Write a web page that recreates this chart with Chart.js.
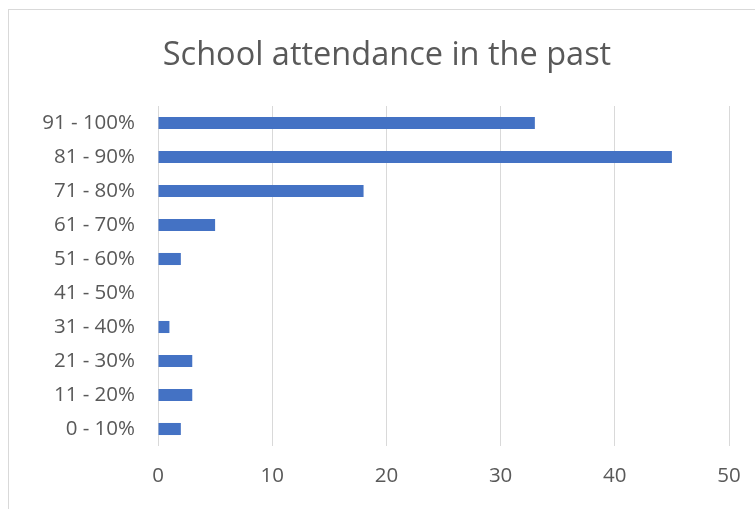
<!DOCTYPE html>
<html>
<head>
<meta charset="utf-8">
<script src="https://cdn.jsdelivr.net/npm/chart.js@4.4.1/dist/chart.umd.min.js"></script>
<style>
  html, body { margin: 0; padding: 0; background: #fff; overflow: hidden; }
  #frame {
    position: absolute; left: 8px; top: 9px;
    width: 760px; height: 510px;
    border: 1px solid #d9d9d9; background: #fff;
  }
  #wrap { position: absolute; left: 0; top: 0; width: 756px; height: 500px; }
</style>
</head>
<body>
<div id="frame">
  <div id="wrap"><canvas id="chart"></canvas></div>
</div>
<script>
  // categories listed top to bottom, as shown in the chart
  var categories = ["91 - 100%", "81 - 90%", "71 - 80%", "61 - 70%", "51 - 60%",
                    "41 - 50%", "31 - 40%", "21 - 30%", "11 - 20%", "0 - 10%"];
  var counts = [33, 45, 18, 5, 2, 0, 1, 3, 3, 2];
  var xTicks = [0, 10, 20, 30, 40, 50];

  var textColor = "#595959";
  var gridColor = "#d9d9d9";
  var fontFamily = "'Open Sans', sans-serif";

  Chart.defaults.font.family = fontFamily;
  Chart.defaults.color = textColor;

  new Chart(document.getElementById("chart"), {
    type: "bar",
    data: {
      labels: categories,
      datasets: [{
        data: counts,
        backgroundColor: "#4472C4",
        borderWidth: 0,
        categoryPercentage: 1,
        barPercentage: 0.355
      }]
    },
    options: {
      indexAxis: "y",
      responsive: true,
      maintainAspectRatio: false,
      animation: false,
      layout: { padding: 0 },
      plugins: {
        legend: { display: false },
        tooltip: { enabled: false },
        title: {
          display: true,
          text: "School attendance in the past",
          color: textColor,
          font: { size: 32.5, weight: "normal", lineHeight: 1.2 },
          padding: { top: 26, bottom: 31 }
        }
      },
      scales: {
        x: {
          min: 0,
          max: 50,
          afterBuildTicks: function (axis) {
            axis.ticks = xTicks.map(function (v) { return { value: v }; });
          },
          afterFit: function (axis) { axis.height = 64; },
          grid: { color: gridColor, lineWidth: 1, drawTicks: false },
          border: { display: false },
          ticks: { padding: 18, font: { size: 20.5 }, color: textColor }
        },
        y: {
          afterFit: function (axis) { axis.width = 149; },
          grid: { display: false, drawTicks: false },
          border: { display: false },
          ticks: { padding: 23, font: { size: 20.5 }, color: textColor }
        },
        // empty right-hand spacer so the title centres over the whole frame
        spacer: {
          type: "linear",
          axis: "y",
          position: "right",
          afterFit: function (axis) { axis.width = 36; },
          grid: { display: false, drawTicks: false },
          border: { display: false },
          ticks: { display: false }
        }
      }
    }
  });
</script>
</body>
</html>
